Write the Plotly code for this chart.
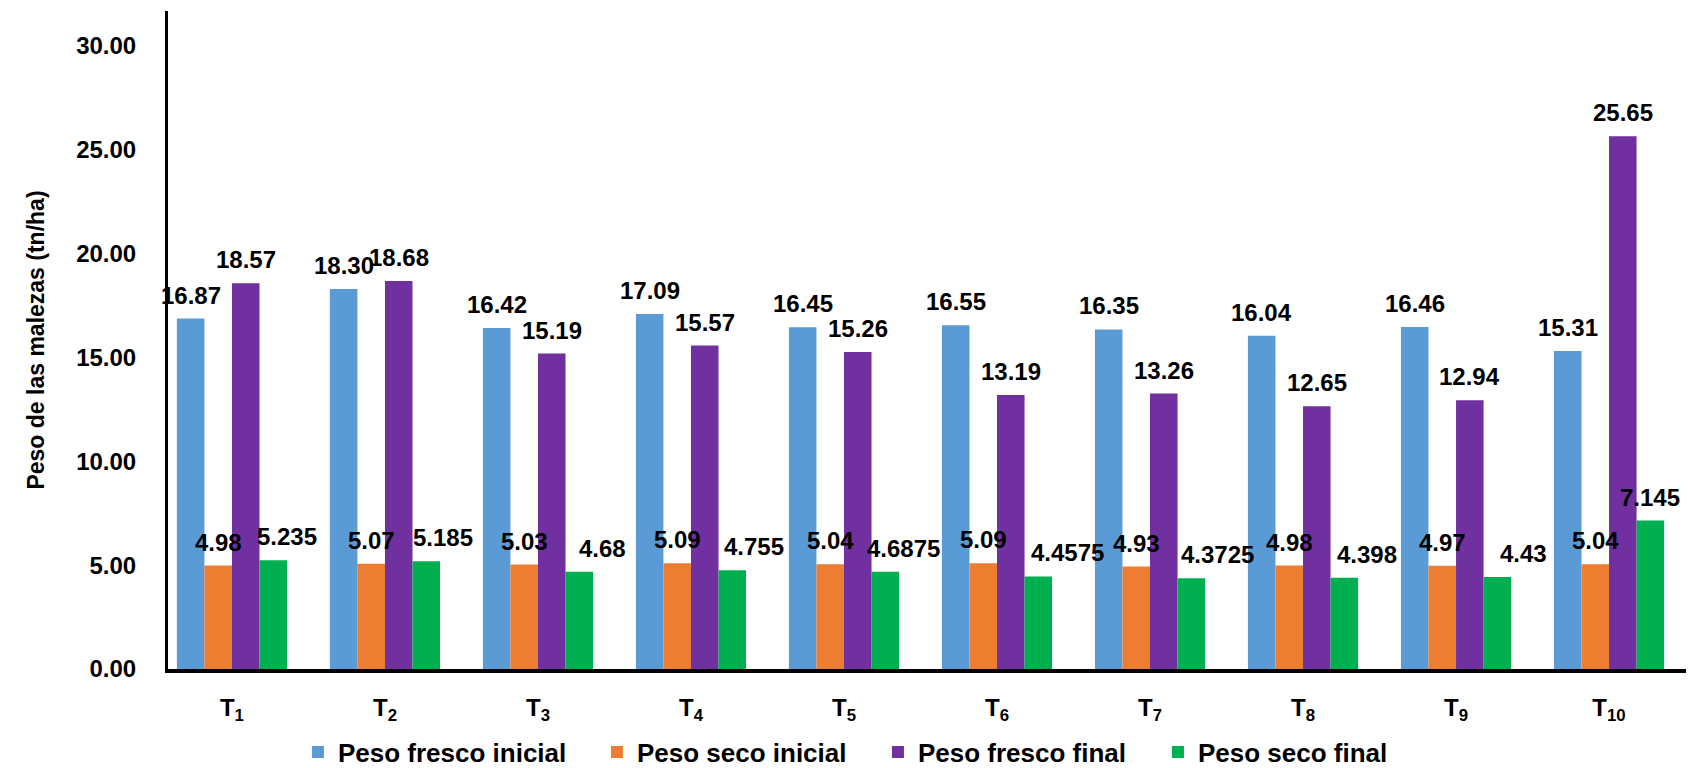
import plotly.graph_objects as go

# ---------------- data ----------------
categories = ["T<sub>1</sub>", "T<sub>2</sub>", "T<sub>3</sub>", "T<sub>4</sub>", "T<sub>5</sub>",
              "T<sub>6</sub>", "T<sub>7</sub>", "T<sub>8</sub>", "T<sub>9</sub>", "T<sub>10</sub>"]
peso_fresco_inicial = [16.87, 18.30, 16.42, 17.09, 16.45, 16.55, 16.35, 16.04, 16.46, 15.31]
peso_seco_inicial = [4.98, 5.07, 5.03, 5.09, 5.04, 5.09, 4.93, 4.98, 4.97, 5.04]
peso_fresco_final = [18.57, 18.68, 15.19, 15.57, 15.26, 13.19, 13.26, 12.65, 12.94, 25.65]
peso_seco_final = [5.235, 5.185, 4.68, 4.755, 4.6875, 4.4575, 4.3725, 4.398, 4.43, 7.145]
y_tick_values = [0, 5, 10, 15, 20, 25, 30]
y_tick_labels = ["0.00", "5.00", "10.00", "15.00", "20.00", "25.00", "30.00"]
series_names = ["Peso fresco inicial", "Peso seco inicial", "Peso fresco final", "Peso seco final"]

# ---------------- styling ----------------
colors = ["#5B9BD5", "#ED7D31", "#7030A0", "#00B050"]
label_formats = ["{:.2f}", "{:.2f}", "{:.2f}", "{:g}"]
legend_widths = [254, 236, 235, 200]
# manual horizontal nudges (px) of the "Peso seco final" labels, as in the original
green_label_dx = [14, 17, 23, 22, 18, 29, 26, 23, 26, 0]
FONT = "Arial, Liberation Sans, sans-serif"
BARGAP = 0.28

series_values = [peso_fresco_inicial, peso_seco_inicial, peso_fresco_final, peso_seco_final]

fig = go.Figure()
for name, vals, col, lw in zip(series_names, series_values, colors, legend_widths):
    fig.add_trace(go.Bar(
        name=name, x=categories, y=vals,
        marker=dict(color=col, line=dict(width=0)),
        legendwidth=lw,
    ))

# data labels placed through the axis scale (category index + group offset)
n = len(series_values)
bar_w = (1 - BARGAP) / n
annotations = []
for k, (vals, fmt) in enumerate(zip(series_values, label_formats)):
    off = (k - (n - 1) / 2) * bar_w
    for i, v in enumerate(vals):
        dx = green_label_dx[i] if k == 3 else 0
        annotations.append(dict(
            x=i + off, y=v, xref="x", yref="y",
            text=fmt.format(v), showarrow=False,
            yanchor="bottom", xanchor="center", yshift=8, xshift=dx,
            font=dict(family=FONT, size=24, color="#000000", weight="bold"),
        ))

fig.update_layout(
    width=1689, height=768,
    margin=dict(l=168, r=3, t=11, b=99),
    paper_bgcolor="white", plot_bgcolor="white",
    barmode="group", bargap=BARGAP, bargroupgap=0,
    font=dict(family=FONT, color="#000000"),
    showlegend=True,
    legend=dict(
        orientation="h", xref="container", yref="container",
        x=0.1764, xanchor="left", y=0.0208, yanchor="middle",
        font=dict(family=FONT, size=26, color="#000000", weight="bold"),
        itemwidth=30, traceorder="normal", bgcolor="rgba(0,0,0,0)",
    ),
    annotations=annotations,
    xaxis=dict(
        type="category", range=[-0.418, 9.503],
        showline=True, linecolor="#000000", linewidth=4,
        showgrid=False, zeroline=False, ticks="",
        tickfont=dict(family=FONT, size=24, color="#000000", weight="bold"),
        ticklabelstandoff=14,
    ),
    yaxis=dict(
        range=[0, 31.68],
        tickmode="array", tickvals=y_tick_values, ticktext=y_tick_labels,
        showline=True, linecolor="#000000", linewidth=3,
        showgrid=False, zeroline=False, ticks="",
        tickfont=dict(family=FONT, size=24, color="#000000", weight="bold"),
        ticklabelstandoff=24,
        title=dict(text="Peso de las malezas (tn/ha)", standoff=26,
                   font=dict(family=FONT, size=23, color="#000000", weight="bold")),
    ),
)

fig.write_html("out.html")
